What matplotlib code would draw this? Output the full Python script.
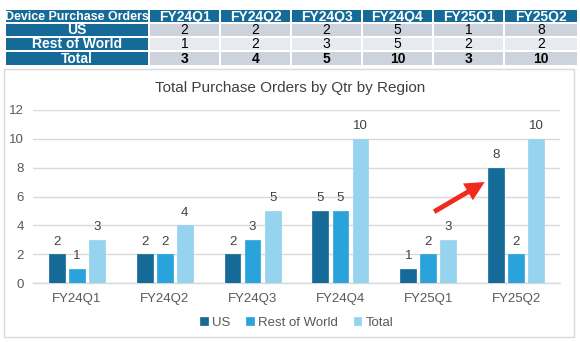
import matplotlib
matplotlib.use("Agg")
import matplotlib.pyplot as plt
from matplotlib.patches import Rectangle
import numpy as np

plt.rcParams['font.family'] = ['Liberation Sans', 'DejaVu Sans']

quarters = ["FY24Q1", "FY24Q2", "FY24Q3", "FY24Q4", "FY25Q1", "FY25Q2"]
series_names = ["US", "Rest of World", "Total"]
us = [2, 2, 2, 5, 1, 8]
row = [1, 2, 3, 5, 2, 2]
total = [3, 4, 5, 10, 3, 10]
table_header = "Device Purchase Orders"
title = "Total Purchase Orders by Qtr by Region"

W, H = 580, 342
fig = plt.figure(figsize=(W / 100, H / 100), dpi=100)
fig.patch.set_facecolor("white")

# overlay axes in pixel coordinates for table and frame
ov = fig.add_axes([0, 0, 1, 1], zorder=0)
ov.set_xlim(0, W)
ov.set_ylim(H, 0)
ov.axis("off")

hdr = "#156A98"
c_dark = "#CDD3DC"
c_light = "#E7EAEE"

col_edges = [5, 149, 220, 291, 362, 433, 504, 578]
row_edges = [9, 23, 37, 51, 66]
gap = 1.2
rows = [("US", us, c_dark, False), ("Rest of World", row, c_light, False),
        ("Total", total, c_dark, True)]

# header row
for ci in range(len(col_edges) - 1):
    x0, x1 = col_edges[ci], col_edges[ci + 1]
    y0, y1 = row_edges[0], row_edges[1]
    ov.add_patch(Rectangle((x0 + gap, y0 + gap), x1 - x0 - 2 * gap, y1 - y0 - 2 * gap,
                           facecolor=hdr, edgecolor="none"))
    txt = table_header if ci == 0 else quarters[ci - 1]
    ov.text((x0 + x1) / 2, (y0 + y1) / 2 + 0.5, txt, color="white", fontweight="bold",
            fontsize=8.9 if ci == 0 else 10, ha="center", va="center")

for ri, (name, vals, bg, bold) in enumerate(rows):
    y0, y1 = row_edges[ri + 1], row_edges[ri + 2]
    for ci in range(len(col_edges) - 1):
        x0, x1 = col_edges[ci], col_edges[ci + 1]
        fc = hdr if ci == 0 else bg
        ov.add_patch(Rectangle((x0 + gap, y0 + gap), x1 - x0 - 2 * gap, y1 - y0 - 2 * gap,
                               facecolor=fc, edgecolor="none"))
        if ci == 0:
            ov.text((x0 + x1) / 2, (y0 + y1) / 2 + 0.5, name, color="white",
                    fontweight="bold", fontsize=10, ha="center", va="center")
        else:
            ov.text((x0 + x1) / 2, (y0 + y1) / 2 + 0.5, str(vals[ci - 1]), color="black",
                    fontweight="bold" if bold else "normal", fontsize=10,
                    ha="center", va="center")

# chart frame
ov.add_patch(Rectangle((3.5, 68.5), 570, 268, facecolor="white", edgecolor="#D9D9D9",
                       linewidth=1))
ov.text(290, 88, title, fontsize=11, color="#404040", ha="center", va="center")

# main chart
left, right = 33, 560
bottom, top = 283, 110
ax = fig.add_axes([left / W, 1 - bottom / H, (right - left) / W, (bottom - top) / H], zorder=1)
ax.patch.set_alpha(0)
x = np.arange(len(quarters))
colors = ["#156A98", "#2AA3DC", "#95D3EE"]
bw = 0.18
off = 0.228
for i, (vals, col, nm) in enumerate(zip([us, row, total], colors, series_names)):
    ax.bar(x + (i - 1) * off, vals, width=bw, color=col, edgecolor=col,
           linewidth=0.5, label=nm, zorder=3)
    for xi, v in zip(x + (i - 1) * off, vals):
        ax.text(xi, v + 0.45, str(v), ha="center", va="bottom", fontsize=9.5,
                color="#404040")

ax.set_xlim(-0.5, 5.5)
ax.set_ylim(0, 12)
ax.set_yticks(range(0, 13, 2))
ax.set_xticks(x)
ax.set_xticklabels(quarters)
ax.tick_params(axis="both", length=0, labelsize=9.5, colors="#595959")
ax.tick_params(axis="x", pad=7)
ax.tick_params(axis="y", pad=6.5)
ax.grid(axis="y", color="#D9D9D9", linewidth=1, zorder=0)
for s in ["top", "right", "left"]:
    ax.spines[s].set_visible(False)
ax.spines["bottom"].set_color("#D9D9D9")
ax.spines["bottom"].set_linewidth(1)

ax.legend(loc="upper center", bbox_to_anchor=(0.5, -0.125), ncol=3, frameon=False,
          fontsize=9.5, handlelength=0.6, handleheight=0.6, handletextpad=0.3,
          columnspacing=1.2, labelcolor="#595959")

# red arrow annotation
ax.annotate("", xy=(4.67, 7.1), xytext=(4.04, 4.85),
            arrowprops=dict(arrowstyle="simple,head_length=1.4,head_width=1.4,tail_width=0.35",
                            color="#F22A1C", lw=0), zorder=5)

fig.savefig("out.png", dpi=100, facecolor="white")
